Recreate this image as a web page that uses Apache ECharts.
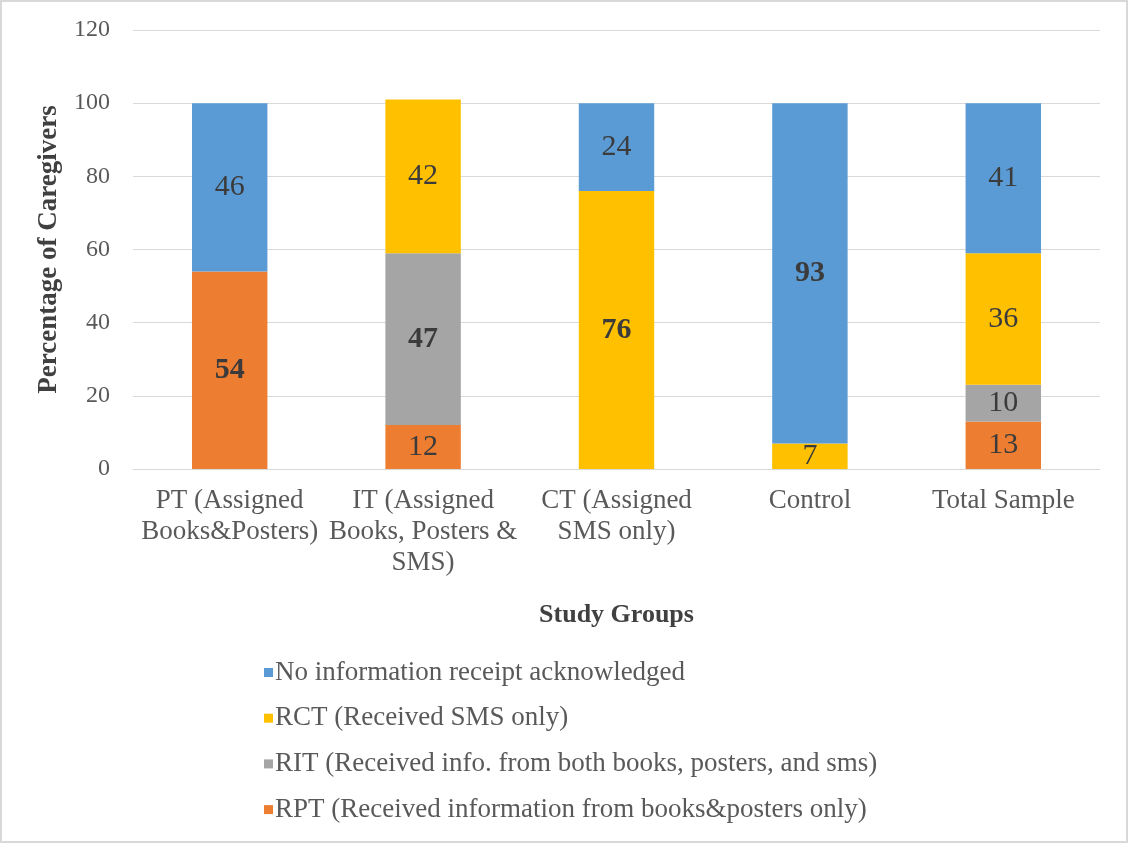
<!DOCTYPE html>
<html><head><meta charset="utf-8">
<script src="https://cdn.jsdelivr.net/npm/echarts@6/dist/echarts.min.js"></script>
<style>
html,body{margin:0;padding:0;background:#fff;}
#frame{position:absolute;left:0;top:0;width:1124px;height:839px;border:2px solid #d9d9d9;}
#c{position:absolute;left:0;top:0;width:1128px;height:843px;}
</style></head>
<body><div id="frame"></div><div id="c"></div>
<script>
const categories = ['PT (Assigned\nBooks&Posters)', 'IT (Assigned\nBooks, Posters &\nSMS)', 'CT (Assigned\nSMS only)', 'Control', 'Total Sample'];
const rpt = [54, 12, 0, 0, 13];
const rit = [0, 47, 0, 0, 10];
const rct = [0, 42, 76, 7, 36];
const noInfo = [46, 0, 24, 93, 41];
const seriesNames = ['RPT (Received information from books&posters only)', 'RIT (Received info. from both books, posters, and sms)', 'RCT (Received SMS only)', 'No information receipt acknowledged'];
const yTicks = [0, 20, 40, 60, 80, 100, 120];
// which labels are bold: [seriesIndex, categoryIndex]
const boldLabels = [[0,0],[1,1],[2,2],[3,3]];

const colors = ['#ED7D31', '#A5A5A5', '#FFC000', '#5B9BD5'];
const values = [rpt, rit, rct, noInfo];
const font = 'Liberation Serif, Times New Roman, serif';

const series = values.map((arr, si) => ({
  name: seriesNames[si],
  type: 'bar',
  stack: 'total',
  barWidth: '39%',
  itemStyle: {color: colors[si]},
  data: arr.map((v, ci) => {
    const bold = boldLabels.some(b => b[0] === si && b[1] === ci);
    return {value: v, label: {fontWeight: bold ? 'bold' : 'normal'}};
  }),
  label: {
    show: true,
    position: 'inside',
    fontFamily: font,
    fontSize: 30,
    color: '#3b3b3b',
    formatter: p => p.value === 0 ? '' : String(p.value)
  }
}));

const chart = echarts.init(document.getElementById('c'), null, {renderer: 'canvas'});
chart.setOption({
  animation: false,
  backgroundColor: 'transparent',
  textStyle: {fontFamily: font},
  grid: {left: 133, right: 28, top: 30, bottom: 374, containLabel: false},
  legend: {
    orient: 'vertical',
    left: 259,
    top: 654,
    itemWidth: 9,
    itemHeight: 9,
    itemGap: 18.7,
    icon: 'rect',
    data: [seriesNames[3], seriesNames[2], seriesNames[1], seriesNames[0]],
    textStyle: {fontFamily: font, fontSize: 27, color: '#595959', padding: [0, 0, 0, -3]}
  },
  xAxis: {
    type: 'category',
    data: categories,
    name: 'Study Groups',
    nameLocation: 'middle',
    nameGap: 133,
    nameTextStyle: {fontFamily: font, fontSize: 26, fontWeight: 'bold', color: '#404040'},
    axisTick: {show: false},
    axisLine: {lineStyle: {color: '#d9d9d9'}},
    axisLabel: {interval: 0, fontFamily: font, fontSize: 27, color: '#595959', lineHeight: 31, margin: 16}
  },
  yAxis: {
    type: 'value',
    min: yTicks[0],
    max: yTicks[yTicks.length - 1],
    interval: yTicks[1] - yTicks[0],
    name: 'Percentage of Caregivers',
    nameLocation: 'middle',
    nameGap: 70,
    nameTextStyle: {fontFamily: font, fontSize: 27, fontWeight: 'bold', color: '#404040'},
    axisLine: {show: false},
    axisTick: {show: false},
    splitLine: {lineStyle: {color: '#d9d9d9'}},
    axisLabel: {fontFamily: font, fontSize: 24, color: '#595959', margin: 23}
  },
  series: series
});
</script>
</body></html>
